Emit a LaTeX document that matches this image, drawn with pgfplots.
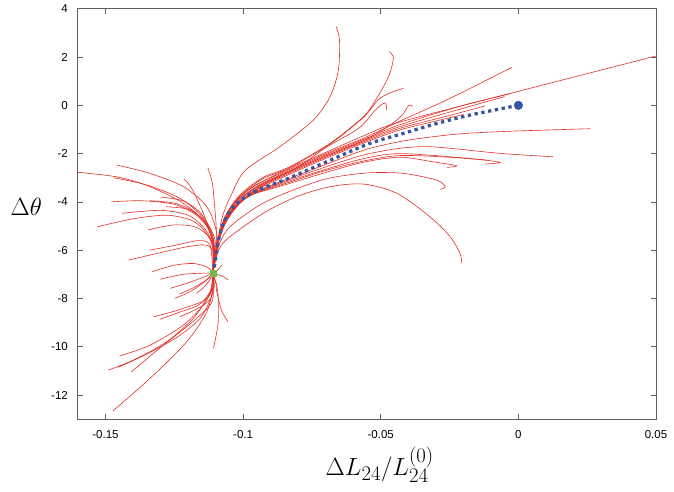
\documentclass[border=0pt]{standalone}
\usepackage{fontspec}
\setmainfont{Liberation Sans}
\usepackage{pgfplots}
\pgfplotsset{compat=1.18}
\definecolor{trajred}{RGB}{226,48,38}
\definecolor{pathblue}{RGB}{56,84,164}
\definecolor{fixgreen}{RGB}{118,186,72}
\definecolor{axgray}{RGB}{95,95,95}
\pgfplotsset{traj/.style={color=trajred, line width=0.6pt, smooth, no markers}}
\begin{document}
\begin{tikzpicture}
\useasboundingbox (-78pt,-71.7pt) rectangle (596pt,419.3pt);
\begin{axis}[
  at={(0,0)}, anchor=south west,
  scale only axis, width=578pt, height=410.6pt,
  xmin=-0.16, xmax=0.05, ymin=-13, ymax=4,
  xtick={-0.15,-0.1,-0.05,0,0.05},
  xticklabels={-0.15,-0.1,-0.05,0,0.05},
  ytick={-12,-10,-8,-6,-4,-2,0,2,4},
  yticklabels={-12,-10,-8,-6,-4,-2,0,2,4},
  tick align=inside, major tick length=5pt,
  tick style={line width=0.8pt, draw=axgray},
  axis line style={line width=1pt, draw=axgray},
  ticklabel style={font=\fontsize{11.5}{13}\selectfont, inner sep=0pt},
  xticklabel style={anchor=north, yshift=-10.7pt},
  yticklabel style={anchor=east, xshift=-10pt},
  xlabel={$\Delta L_{24}/L_{24}^{(0)}$},
  ylabel={$\Delta\theta$},
  every axis x label/.style={at={(axis description cs:0.522,0)}, anchor=north, yshift=-27pt, inner sep=0pt, font=\Huge},
  every axis y label/.style={at={(axis description cs:0,0.517)}, anchor=east, xshift=-36pt, inner sep=0pt, font=\Huge},
]
% ---------- upper-right bundle ----------
\addplot[traj] coordinates {(-0.111,-6.95)(-0.1100,-6.2)(-0.1090,-5.5)(-0.1070,-4.75)(-0.1030,-4.0)(-0.0960,-3.35)(-0.0850,-2.7)(-0.0700,-1.95)(-0.0560,-1.25)(-0.0430,-0.69)(0,0.58)(0.052,2.1)};
\addplot[traj] coordinates {(-0.111,-6.95)(-0.1100,-6.2)(-0.1088,-5.5)(-0.1065,-4.7)(-0.1025,-3.95)(-0.0955,-3.3)(-0.0850,-2.75)(-0.0700,-2.0)(-0.0560,-1.35)(-0.0430,-0.65)(-0.0248,0.29)(-0.0024,1.57)};
\addplot[traj] coordinates {(-0.111,-6.95)(-0.1100,-6.2)(-0.1088,-5.5)(-0.1063,-4.72)(-0.1020,-4.0)(-0.0950,-3.35)(-0.085,-2.8)(-0.07,-2.05)(-0.056,-1.4)(-0.043,-0.8)(-0.02,0.0)(-0.003,0.48)};
\addplot[traj] coordinates {(-0.111,-6.95)(-0.1100,-6.2)(-0.1087,-5.5)(-0.1062,-4.74)(-0.1018,-4.02)(-0.0948,-3.38)(-0.085,-2.85)(-0.07,-2.1)(-0.056,-1.45)(-0.043,-0.88)(-0.02,-0.12)(-0.005,0.36)};
\addplot[traj] coordinates {(-0.111,-6.95)(-0.1100,-6.2)(-0.1087,-5.5)(-0.1061,-4.76)(-0.1016,-4.05)(-0.0946,-3.42)(-0.085,-2.9)(-0.07,-2.15)(-0.056,-1.5)(-0.043,-0.95)(-0.025,-0.42)(-0.012,-0.02)};
\addplot[traj] coordinates {(-0.111,-6.95)(-0.1100,-6.2)(-0.1086,-5.5)(-0.1060,-4.78)(-0.1014,-4.08)(-0.0944,-3.46)(-0.085,-2.95)(-0.07,-2.2)(-0.056,-1.55)(-0.043,-1.02)(-0.03,-0.65)(-0.02,-0.38)};
\addplot[traj] coordinates {(-0.111,-6.95)(-0.1100,-6.2)(-0.1086,-5.5)(-0.1060,-4.78)(-0.1014,-4.08)(-0.0944,-3.42)(-0.085,-2.85)(-0.07,-2.1)(-0.056,-1.45)(-0.047,-0.85)(-0.0422,-0.4)(-0.0398,0.0)(-0.0385,-0.05)};
\addplot[traj] coordinates {(-0.111,-6.95)(-0.1100,-6.25)(-0.1090,-5.6)(-0.1070,-4.85)(-0.1025,-4.15)(-0.0960,-3.6)(-0.085,-3.1)(-0.07,-2.45)(-0.056,-1.85)(-0.043,-1.5)(-0.031,-1.3)(-0.0188,-1.16)(0,-1.06)(0.026,-0.97)};
\addplot[traj] coordinates {(-0.111,-6.95)(-0.1100,-6.25)(-0.1090,-5.6)(-0.1070,-4.87)(-0.1028,-4.18)(-0.0965,-3.65)(-0.085,-3.15)(-0.07,-2.55)(-0.056,-2.05)(-0.043,-1.78)(-0.031,-1.72)(-0.0066,-1.99)(0.0125,-2.13)};
\addplot[traj] coordinates {(-0.111,-6.95)(-0.1100,-6.25)(-0.1090,-5.62)(-0.1071,-4.9)(-0.1030,-4.22)(-0.097,-3.7)(-0.085,-3.2)(-0.07,-2.65)(-0.056,-2.2)(-0.043,-2.0)(-0.0188,-2.19)(-0.0066,-2.36)(-0.012,-2.43)};
\addplot[traj] coordinates {(-0.111,-6.95)(-0.1100,-6.25)(-0.1090,-5.63)(-0.1072,-4.92)(-0.1032,-4.25)(-0.097,-3.72)(-0.085,-3.25)(-0.07,-2.7)(-0.056,-2.3)(-0.043,-2.08)(-0.025,-2.15)(-0.0115,-2.27)};
\addplot[traj] coordinates {(-0.111,-6.95)(-0.1100,-6.25)(-0.1090,-5.65)(-0.1073,-4.95)(-0.1035,-4.3)(-0.098,-3.75)(-0.085,-3.3)(-0.07,-2.78)(-0.056,-2.35)(-0.043,-2.15)(-0.031,-2.34)(-0.0224,-2.5)(-0.026,-2.57)};
\addplot[traj] coordinates {(-0.111,-6.95)(-0.1100,-6.4)(-0.1085,-5.7)(-0.1048,-5.03)(-0.095,-4.2)(-0.085,-3.65)(-0.07,-3.05)(-0.055,-2.8)(-0.0417,-2.82)(-0.0296,-3.1)(-0.0266,-3.37)(-0.0285,-3.48)};
\addplot[traj] coordinates {(-0.111,-6.95)(-0.1100,-6.4)(-0.1085,-5.9)(-0.1048,-5.44)(-0.0927,-4.47)(-0.0805,-3.78)(-0.0684,-3.37)(-0.0563,-3.26)(-0.0442,-3.64)(-0.0322,-4.61)(-0.0248,-5.44)(-0.0212,-6.13)(-0.0206,-6.54)};
% tall curves
\addplot[traj] coordinates {(-0.111,-6.95)(-0.1102,-6.3)(-0.1092,-5.6)(-0.1075,-4.6)(-0.1045,-3.75)(-0.0993,-2.7)(-0.0866,-1.71)(-0.0745,-0.61)(-0.0684,0.36)(-0.0654,1.46)(-0.065,2.70)(-0.0662,3.25)};
\addplot[traj] coordinates {(-0.111,-6.95)(-0.1102,-6.3)(-0.109,-5.5)(-0.1065,-4.6)(-0.1015,-3.75)(-0.093,-3.0)(-0.083,-2.54)(-0.0684,-1.57)(-0.0563,-0.47)(-0.0515,0.29)(-0.0472,1.18)(-0.0454,1.95)(-0.0469,2.22)};
\addplot[traj] coordinates {(-0.111,-6.95)(-0.1102,-6.3)(-0.109,-5.5)(-0.1065,-4.62)(-0.1013,-3.78)(-0.093,-3.05)(-0.083,-2.58)(-0.0684,-1.6)(-0.0563,-0.5)(-0.0510,0.22)(-0.047,0.5)(-0.0418,0.70)};
\addplot[traj] coordinates {(-0.111,-6.95)(-0.1101,-6.3)(-0.1089,-5.5)(-0.1064,-4.65)(-0.1012,-3.85)(-0.092,-3.2)(-0.08,-2.55)(-0.07,-1.75)(-0.058,-0.95)(-0.052,-0.2)(-0.0485,0.1)(-0.0478,-0.2)};
% ---------- left-upper fan ----------
\addplot[traj] coordinates {(-0.165,-2.72)(-0.146,-2.96)(-0.1338,-3.37)(-0.1217,-4.06)(-0.1132,-4.89)(-0.1102,-5.58)(-0.1105,-6.3)(-0.111,-6.95)};
\addplot[traj] coordinates {(-0.146,-2.47)(-0.1338,-2.82)(-0.1217,-3.37)(-0.1132,-4.2)(-0.1096,-5.3)(-0.1103,-6.3)(-0.111,-6.95)};
\addplot[traj] coordinates {(-0.147,-3.0)(-0.135,-3.3)(-0.123,-3.85)(-0.115,-4.6)(-0.111,-5.5)(-0.1105,-6.3)(-0.111,-6.95)};
\addplot[traj] coordinates {(-0.1215,-3.05)(-0.1195,-3.3)(-0.1175,-3.7)(-0.114,-4.6)(-0.111,-5.6)(-0.1105,-6.3)(-0.111,-6.95)};
\addplot[traj] coordinates {(-0.1128,-2.6)(-0.1112,-3.2)(-0.1105,-4.0)(-0.1098,-5.0)(-0.1098,-5.8)(-0.1105,-6.4)(-0.111,-6.95)};
\addplot[traj] coordinates {(-0.134,-3.95)(-0.125,-4.05)(-0.118,-4.4)(-0.113,-5.0)(-0.111,-5.7)(-0.111,-6.95)};
\addplot[traj] coordinates {(-0.144,-4.47)(-0.13,-4.35)(-0.12,-4.55)(-0.114,-5.1)(-0.111,-5.8)(-0.111,-6.95)};
\addplot[traj] coordinates {(-0.153,-5.03)(-0.14,-4.7)(-0.128,-4.55)(-0.119,-4.75)(-0.114,-5.2)(-0.111,-5.9)(-0.111,-6.95)};
\addplot[traj] coordinates {(-0.1346,-5.16)(-0.125,-4.95)(-0.117,-5.05)(-0.112,-5.5)(-0.111,-6.0)(-0.111,-6.95)};
\addplot[traj] coordinates {(-0.13,-3.8)(-0.122,-3.95)(-0.116,-4.4)(-0.112,-5.1)(-0.1105,-5.8)(-0.111,-6.95)};
\addplot[traj] coordinates {(-0.128,-4.2)(-0.12,-4.3)(-0.115,-4.7)(-0.112,-5.3)(-0.1105,-6.0)(-0.111,-6.95)};
\addplot[traj] coordinates {(-0.148,-4.0)(-0.137,-3.95)(-0.125,-4.1)(-0.117,-4.55)(-0.112,-5.2)(-0.1105,-5.9)(-0.111,-6.95)};
\addplot[traj] coordinates {(-0.1417,-6.41)(-0.13,-6.1)(-0.12,-5.85)(-0.113,-5.8)(-0.1105,-6.2)(-0.111,-6.95)};
\addplot[traj] coordinates {(-0.134,-6.0)(-0.125,-5.8)(-0.116,-5.6)(-0.112,-5.8)(-0.111,-6.95)};
\addplot[traj] coordinates {(-0.1332,-6.89)(-0.125,-6.62)(-0.118,-6.55)(-0.113,-6.7)(-0.111,-6.95)};
\addplot[traj] coordinates {(-0.1302,-7.2)(-0.122,-7.0)(-0.115,-6.95)(-0.111,-6.95)};
\addplot[traj] coordinates {(-0.1266,-7.58)(-0.12,-7.35)(-0.114,-7.1)(-0.111,-6.95)};
\addplot[traj] coordinates {(-0.123,-7.8)(-0.118,-7.55)(-0.113,-7.2)(-0.111,-6.95)};
\addplot[traj] coordinates {(-0.1248,-7.99)(-0.119,-7.7)(-0.114,-7.3)(-0.111,-6.95)};
\addplot[traj] coordinates {(-0.1169,-7.78)(-0.114,-7.5)(-0.112,-7.2)(-0.111,-6.95)};
% right of hub short
\addplot[traj] coordinates {(-0.111,-6.95)(-0.108,-7.05)(-0.1054,-7.23)};
\addplot[traj] coordinates {(-0.111,-6.95)(-0.109,-6.8)(-0.1078,-6.61)};
% ---------- lower fan ----------
\addplot[traj] coordinates {(-0.111,-6.95)(-0.1108,-7.44)(-0.1132,-8.55)(-0.1205,-9.79)(-0.1338,-11.3)(-0.1473,-12.65)};
\addplot[traj] coordinates {(-0.111,-6.95)(-0.111,-7.5)(-0.1132,-7.99)(-0.1181,-8.82)(-0.1278,-9.79)(-0.1399,-10.55)(-0.1489,-10.96)};
\addplot[traj] coordinates {(-0.111,-6.95)(-0.1112,-7.6)(-0.1145,-8.27)(-0.1217,-9.1)(-0.1338,-9.93)(-0.1449,-10.38)};
\addplot[traj] coordinates {(-0.111,-6.95)(-0.1108,-7.6)(-0.1116,-8.2)(-0.1176,-8.89)(-0.1297,-10.0)(-0.1406,-11.03)};
\addplot[traj] coordinates {(-0.111,-6.95)(-0.1115,-7.6)(-0.114,-8.07)(-0.1237,-8.48)(-0.1324,-8.75)};
\addplot[traj] coordinates {(-0.111,-6.95)(-0.112,-7.7)(-0.116,-8.25)(-0.124,-8.6)(-0.1303,-8.86)};
\addplot[traj] coordinates {(-0.111,-6.95)(-0.1095,-7.5)(-0.1091,-7.93)(-0.1091,-9.03)(-0.1108,-10.06)};
\addplot[traj] coordinates {(-0.111,-6.95)(-0.1098,-7.4)(-0.1097,-7.65)(-0.1079,-8.48)(-0.1055,-8.96)};
\addplot[traj] coordinates {(-0.111,-6.95)(-0.1105,-7.5)(-0.1125,-8.1)(-0.118,-8.5)(-0.123,-8.75)};
\addplot[traj] coordinates {(-0.111,-6.95)(-0.1112,-7.8)(-0.1155,-8.8)(-0.124,-9.6)(-0.135,-10.3)(-0.1455,-10.85)};
% ---------- blue path ----------
\addplot[color=pathblue, line width=3.3pt, dash pattern=on 3.3pt off 3.6pt, smooth, no markers]
  coordinates {(0,0)(-0.0174,-0.40)(-0.0296,-0.75)(-0.0417,-1.16)(-0.0538,-1.57)(-0.0659,-2.15)(-0.083,-3.0)(-0.0963,-3.6)(-0.1036,-4.2)(-0.1072,-4.88)(-0.109,-5.6)(-0.1098,-6.2)(-0.1105,-6.7)(-0.111,-6.95)};
\addplot[only marks, mark=*, mark size=4.3pt, color=pathblue] coordinates {(0,0)};
\addplot[only marks, mark=square*, mark size=3pt, color=fixgreen] coordinates {(-0.111,-6.95)};
\end{axis}
\end{tikzpicture}
\end{document}
